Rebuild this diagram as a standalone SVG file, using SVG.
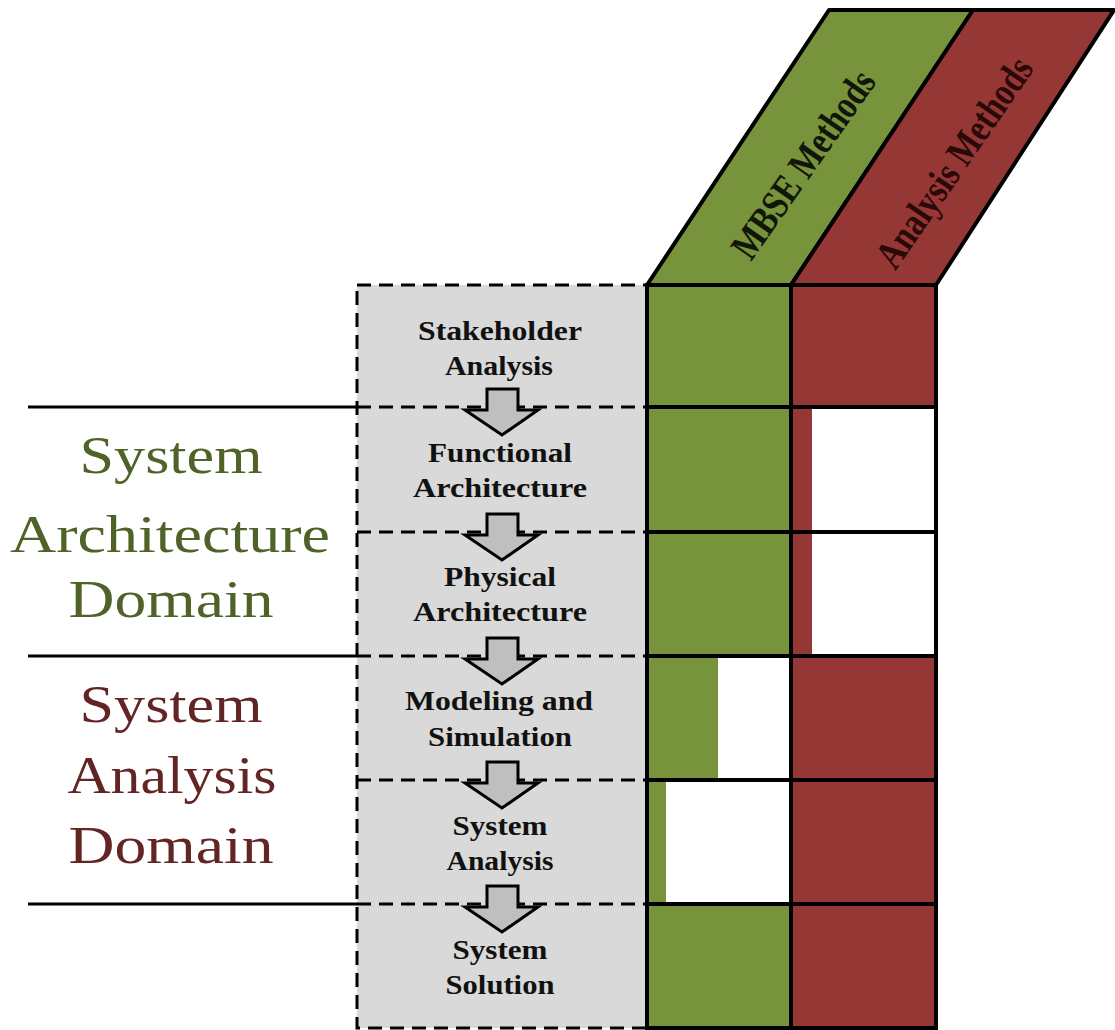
<svg xmlns="http://www.w3.org/2000/svg" width="1115" height="1030" viewBox="0 0 1115 1030">
<style>
.step{font-family:"Liberation Serif","Times New Roman",serif;font-weight:bold;font-size:27px;fill:#111;text-anchor:middle}
.dom{font-family:"Liberation Serif","Times New Roman",serif;font-size:53px;text-anchor:middle}
.hdr{font-family:"Liberation Serif","Times New Roman",serif;font-weight:bold;font-size:40px;text-anchor:middle}
.dash{stroke:#000;stroke-width:3;stroke-dasharray:14 8;fill:none}
.grid{stroke:#000;stroke-width:4;fill:none}
.sep{stroke:#000;stroke-width:3}
.g{fill:#77933C}
.r{fill:#953735}
.w{fill:#fff}
.arr{fill:#BFBFBF;stroke:#000;stroke-width:3;stroke-linejoin:miter}
</style>
<rect width="1115" height="1030" fill="#fff"/>

<g id="header-mbse">
<polygon points="647,285 791,285 973,10 829,10" class="g" stroke="#000" stroke-width="4" stroke-linejoin="round"/>
<text class="hdr" fill="#121608" transform="translate(814,172) rotate(-55)" textLength="220" lengthAdjust="spacingAndGlyphs">MBSE Methods</text>
</g>
<g id="header-analysis">
<polygon points="791,285 936,285 1114,10 973,10" class="r" stroke="#000" stroke-width="4" stroke-linejoin="round"/>
<text class="hdr" fill="#2b0909" transform="translate(965,170) rotate(-55.5)" textLength="246" lengthAdjust="spacingAndGlyphs">Analysis Methods</text>
</g>

<g id="domain-lines">
<line x1="28" y1="407" x2="357" y2="407" class="sep"/>
<line x1="28" y1="656" x2="357" y2="656" class="sep"/>
<line x1="28" y1="904" x2="357" y2="904" class="sep"/>
</g>
<g id="domain-architecture" fill="#4F6228">
<text class="dom" x="171" y="473" textLength="183" lengthAdjust="spacingAndGlyphs">System</text>
<text class="dom" x="170" y="552" textLength="320" lengthAdjust="spacingAndGlyphs">Architecture</text>
<text class="dom" x="171" y="617" textLength="205" lengthAdjust="spacingAndGlyphs">Domain</text>
</g>
<g id="domain-analysis" fill="#632523">
<text class="dom" x="171" y="722" textLength="183" lengthAdjust="spacingAndGlyphs">System</text>
<text class="dom" x="172" y="793" textLength="209" lengthAdjust="spacingAndGlyphs">Analysis</text>
<text class="dom" x="171" y="863" textLength="205" lengthAdjust="spacingAndGlyphs">Domain</text>
</g>

<g id="process-box">
<rect x="357" y="285" width="290" height="743" fill="#D9D9D9"/>
<rect x="357" y="285" width="290" height="743" class="dash"/>
<line x1="357" y1="407" x2="647" y2="407" class="dash"/>
<line x1="357" y1="532" x2="647" y2="532" class="dash"/>
<line x1="357" y1="656" x2="647" y2="656" class="dash"/>
<line x1="357" y1="780" x2="647" y2="780" class="dash"/>
<line x1="357" y1="904" x2="647" y2="904" class="dash"/>
</g>

<g id="columns">
<rect x="647" y="285" width="144" height="743" class="g"/>
<rect x="791" y="285" width="145" height="743" class="r"/>
<rect x="812" y="407" width="124" height="249" class="w"/>
<rect x="718" y="656" width="73" height="124" class="w"/>
<rect x="666" y="780" width="125" height="124" class="w"/>
<rect x="647" y="285" width="289" height="743" class="grid"/>
<line x1="791" y1="285" x2="791" y2="1028" class="grid"/>
<line x1="647" y1="407" x2="936" y2="407" class="grid"/>
<line x1="647" y1="532" x2="936" y2="532" class="grid"/>
<line x1="647" y1="656" x2="936" y2="656" class="grid"/>
<line x1="647" y1="780" x2="936" y2="780" class="grid"/>
<line x1="647" y1="904" x2="936" y2="904" class="grid"/>
</g>

<g id="connectors">
<path class="arr" d="M487,389 H518 V410 H538 L502,435 L465,410 H487 Z"/>
<path class="arr" d="M487,514 H518 V535 H538 L502,560 L465,535 H487 Z"/>
<path class="arr" d="M487,638 H518 V659 H538 L502,684 L465,659 H487 Z"/>
<path class="arr" d="M487,762 H518 V783 H538 L502,808 L465,783 H487 Z"/>
<path class="arr" d="M487,886 H518 V907 H538 L502,932 L465,907 H487 Z"/>
</g>

<g id="step-stakeholder">
<text class="step" x="500" y="340" textLength="164" lengthAdjust="spacingAndGlyphs">Stakeholder</text>
<text class="step" x="499" y="375" textLength="108" lengthAdjust="spacingAndGlyphs">Analysis</text>
</g>
<g id="step-functional">
<text class="step" x="500" y="462" textLength="144" lengthAdjust="spacingAndGlyphs">Functional</text>
<text class="step" x="500" y="497" textLength="174" lengthAdjust="spacingAndGlyphs">Architecture</text>
</g>
<g id="step-physical">
<text class="step" x="500" y="586" textLength="112" lengthAdjust="spacingAndGlyphs">Physical</text>
<text class="step" x="500" y="621" textLength="174" lengthAdjust="spacingAndGlyphs">Architecture</text>
</g>
<g id="step-modeling">
<text class="step" x="499" y="710" textLength="188" lengthAdjust="spacingAndGlyphs">Modeling and</text>
<text class="step" x="500" y="746" textLength="144" lengthAdjust="spacingAndGlyphs">Simulation</text>
</g>
<g id="step-analysis">
<text class="step" x="500" y="835" textLength="95" lengthAdjust="spacingAndGlyphs">System</text>
<text class="step" x="500" y="870" textLength="107" lengthAdjust="spacingAndGlyphs">Analysis</text>
</g>
<g id="step-solution">
<text class="step" x="500" y="959" textLength="95" lengthAdjust="spacingAndGlyphs">System</text>
<text class="step" x="500" y="994" textLength="109" lengthAdjust="spacingAndGlyphs">Solution</text>
</g>
</svg>
